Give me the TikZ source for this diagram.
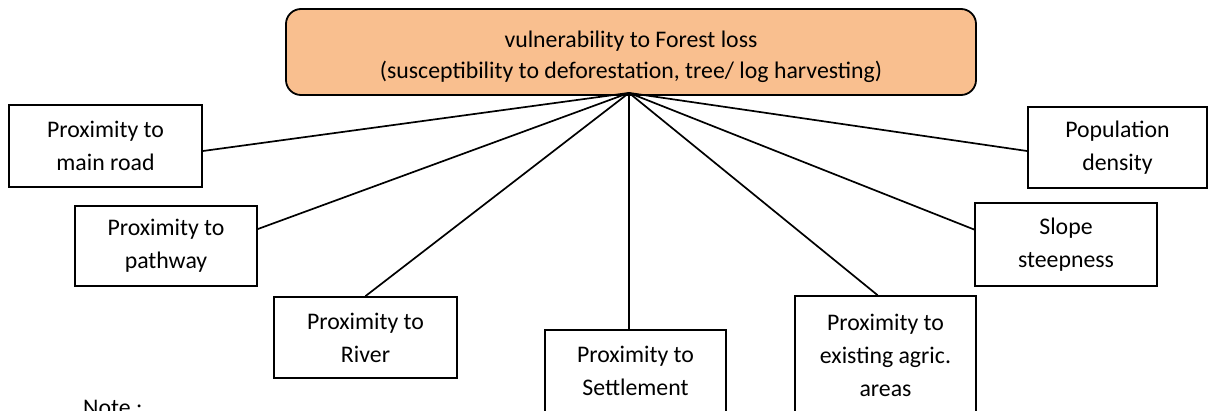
\documentclass[tikz,border=0pt]{standalone}
\usepackage{fontspec}
\setmainfont{Carlito}
\definecolor{peach}{HTML}{F9BF8F}
\begin{document}
\begin{tikzpicture}[x=1pt,y=-1pt,
  txt/.style={font=\fontsize{23.8}{33}\selectfont, align=center, inner sep=0pt},
  factor/.style={txt, draw=black, line width=1.8pt},
  link/.style={draw=black, line width=1.7pt}]
\useasboundingbox (0,0) rectangle (1208,410);

% central theme
\node[txt, font=\fontsize{23.8}{31}\selectfont, draw=black, line width=1.8pt, fill=peach,
      rounded corners=15pt, minimum width=690pt, minimum height=86pt] (top) at (631,52)
  {\rule{0pt}{26pt}vulnerability to Forest loss\\(susceptibility to deforestation, tree/ log harvesting)};
\coordinate (hub) at ([xshift=-2pt,yshift=3pt]top.south);

% contributing factors
\node[factor, minimum width=193pt, minimum height=82pt] (mr) at (105.5,146) {Proximity to\\main road};
\node[factor, minimum width=182pt, minimum height=80pt] (pw) at (166,246) {Proximity to\\pathway};
\node[factor, minimum width=183pt, minimum height=81pt] (rv) at (365.5,337.5) {Proximity to\\River};
\node[factor, minimum width=181pt, minimum height=82pt] (st) at (635.5,371) {Proximity to\\Settlement};
\node[factor, minimum width=181pt, minimum height=118pt] (ag) at (885.5,355) {Proximity to\\existing agric.\\areas};
\node[factor, minimum width=182pt, minimum height=83pt] (sl) at (1066,244.5) {Slope\\steepness};
\node[factor, minimum width=179pt, minimum height=81pt] (pd) at (1117.5,147.5) {Population\\density};

\node[txt, anchor=base west] (note) at (83,415) {Note :};

% links from the theme to each factor
\draw[link] (hub) -- ([yshift=-5pt]mr.east);
\draw[link] (hub) -- ([yshift=17pt]pw.east);
\draw[link] (hub) -- (rv.north);
\draw[link] (hub) -- (hub |- st.north);
\draw[link] (hub) -- ([xshift=-8pt]ag.north);
\draw[link] (hub) -- ([yshift=15pt]sl.west);
\draw[link] (hub) -- ([yshift=-3.5pt]pd.west);
\end{tikzpicture}
\end{document}
